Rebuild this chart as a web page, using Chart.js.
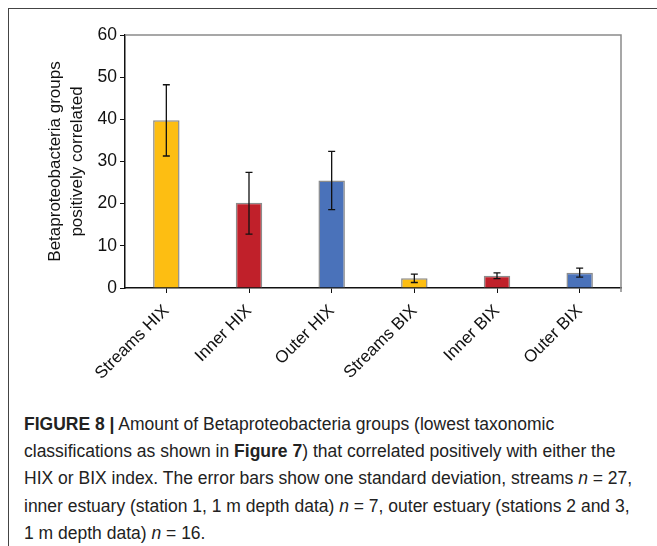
<!DOCTYPE html>
<html>
<head>
<meta charset="utf-8">
<script src="https://cdn.jsdelivr.net/npm/chart.js@4.4.1/dist/chart.umd.min.js"></script>
<style>
  html, body { margin: 0; padding: 0; background: #fff; }
  body { width: 657px; height: 546px; position: relative; overflow: hidden; }
  #frame { position: absolute; left: 8px; top: 8px; width: 700px; height: 600px;
    border-left: 1.5px solid #444; border-top: 1.5px solid #444; }
  #wrap { position: absolute; left: 0; top: 0; width: 657px; height: 400px; }
  #caption { position: absolute; left: 24px; top: 411px; font-family: "Liberation Sans", Arial, sans-serif;
    font-size: 17.5px; line-height: 27.2px; color: #222; }
  #caption div { white-space: nowrap; }
</style>
</head>
<body>
<div id="frame"></div>
<div id="wrap"><canvas id="barChart" width="657" height="400"></canvas></div>
<div id="caption">
  <div><b>FIGURE 8 |</b> Amount of Betaproteobacteria groups (lowest taxonomic</div>
  <div>classifications as shown in <b>Figure 7</b>) that correlated positively with either the</div>
  <div>HIX or BIX index. The error bars show one standard deviation, streams <i>n</i> = 27,</div>
  <div>inner estuary (station 1, 1 m depth data) <i>n</i> = 7, outer estuary (stations 2 and 3,</div>
  <div>1 m depth data) <i>n</i> = 16.</div>
</div>
<script>
// 데이터
const categories = ["Streams HIX", "Inner HIX", "Outer HIX", "Streams BIX", "Inner BIX", "Outer BIX"]
const meanValues = [39.8, 20.2, 25.5, 2.3, 2.9, 3.6]
const errHigh = [48.2, 27.4, 32.4, 3.3, 3.6, 4.7]
const errLow = [31.3, 12.8, 18.6, 1.3, 2.2, 2.6]
const yTicks = [0, 10, 20, 30, 40, 50, 60]
const barColors = ["#FDBE12", "#C0202A", "#4A72BA", "#FDBE12", "#C0202A", "#4A72BA"]

// 오차 막대
const errorBars = {
  id: "errorBars",
  afterDatasetsDraw(chart) {
    const ctx = chart.ctx
    const x = chart.scales.x
    const y = chart.scales.y
    ctx.save()
    ctx.strokeStyle = "#111"
    ctx.lineWidth = 1.3
    categories.forEach((c, i) => {
      const px = x.getPixelForValue(i)
      const top = y.getPixelForValue(errHigh[i])
      const bot = y.getPixelForValue(errLow[i])
      ctx.beginPath()
      ctx.moveTo(px, top); ctx.lineTo(px, bot)
      ctx.moveTo(px - 3.5, top); ctx.lineTo(px + 3.5, top)
      ctx.moveTo(px - 3.5, bot); ctx.lineTo(px + 3.5, bot)
      ctx.stroke()
    })
    ctx.restore()
  },
}

// 위/오른쪽 테두리
const plotFrame = {
  id: "plotFrame",
  beforeDatasetsDraw(chart) {
    const { ctx, chartArea: a } = chart
    ctx.save()
    ctx.strokeStyle = "#8a8a8a"
    ctx.lineWidth = 1.5
    ctx.beginPath()
    ctx.moveTo(a.left, a.top); ctx.lineTo(a.right, a.top); ctx.lineTo(a.right, a.bottom + 4)
    ctx.stroke()
    ctx.restore()
  },
}

document.addEventListener("DOMContentLoaded", () => {
  const el = document.getElementById("barChart")
  new Chart(el, {
    type: "bar",
    data: {
      labels: categories,
      datasets: [
        {
          data: meanValues,
          backgroundColor: barColors,
          borderColor: "#8c8c8c",
          borderWidth: 1.5,
          barPercentage: 0.32,
          categoryPercentage: 1,
        },
      ],
    },
    options: {
      responsive: false,
      animation: false,
      devicePixelRatio: 1,
      layout: { padding: { top: 35, right: 36, left: 0, bottom: 0 } },
      plugins: { legend: { display: false }, tooltip: { enabled: false } },
      scales: {
        x: {
          grid: { display: true, drawOnChartArea: false, offset: false, color: "#111", tickLength: 5, tickColor: "#111" },
          border: { color: "#111", width: 1.5 },
          ticks: {
            color: "#111",
            font: { family: "Liberation Sans", size: 17 },
            maxRotation: 45,
            minRotation: 45,
            padding: 8,
          },
          afterFit: (s) => { s.height = 112 },
        },
        y: {
          min: 0,
          max: 60,
          afterBuildTicks: (s) => { s.ticks = yTicks.map((v) => ({ value: v })) },
          grid: { drawOnChartArea: false, color: "#111", tickLength: 5 },
          border: { color: "#111", width: 1.5 },
          ticks: { color: "#111", font: { family: "Liberation Sans", size: 17.5 }, padding: 3 },
          title: {
            display: true,
            text: ["Betaproteobacteria groups", "positively correlated"],
            color: "#111",
            font: { family: "Liberation Sans", size: 17, lineHeight: 1.294 },
            padding: { top: 44, bottom: 0 },
          },
          afterFit: (s) => { s.width = 125 },
        },
      },
    },
    plugins: [plotFrame, errorBars],
  })
})
</script>
</body>
</html>
